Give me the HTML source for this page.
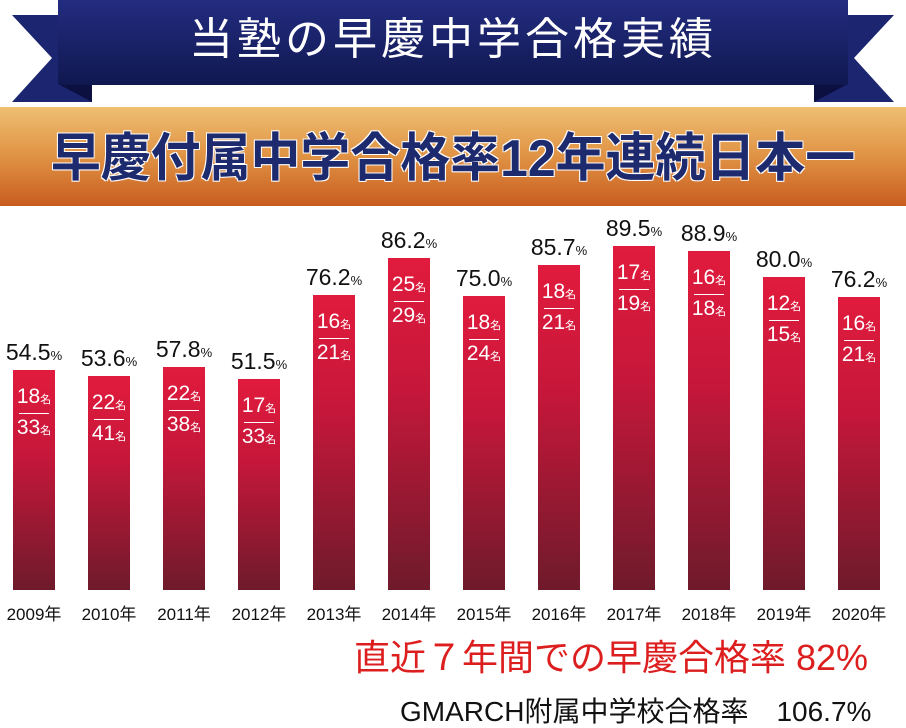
<!DOCTYPE html>
<html><head><meta charset="utf-8"><style>
*{margin:0;padding:0;box-sizing:border-box}
body{width:906px;height:727px;background:#fff;position:relative;overflow:hidden;font-family:"Liberation Sans","Noto Sans CJK JP",sans-serif}
.abs{position:absolute}
.bar{position:absolute;width:42px;bottom:137px;background:linear-gradient(#e11b3d,#c5173a 40%,#6e1a2b)}
.pct{position:absolute;width:90px;text-align:center;font-size:23px;color:#111;white-space:nowrap;line-height:26px}
.pct small{font-size:13px}
.in{position:absolute;left:0;width:42px;text-align:center;color:#fff;font-size:21px;line-height:22px}
.in small{font-size:11px}
.ln{position:absolute;left:6px;width:30px;height:1px;background:#fff}
.yr{position:absolute;top:600px;width:90px;text-align:center;font-size:17px;color:#111}
</style></head><body>
<svg class="abs" style="left:0;top:0" width="906" height="110">
<defs><linearGradient id="n" x1="0" y1="0" x2="0" y2="1"><stop offset="0" stop-color="#232c80"/><stop offset="1" stop-color="#101850"/></linearGradient></defs>
<polygon points="12,15 92,15 92,102 12,102 52,58" fill="#1c2670"/>
<polygon points="894,15 814,15 814,102 894,102 854,58" fill="#1c2670"/>
<polygon points="60,85 92,85 92,102" fill="#0b1040"/>
<polygon points="846,85 814,85 814,102" fill="#0b1040"/>
<rect x="58" y="0" width="790" height="85" fill="url(#n)"/>
</svg>
<div class="abs" style="left:0;top:14px;width:906px;text-align:center;color:#fff;font-size:44px;line-height:52px;letter-spacing:4px">当塾の早慶中学合格実績</div>
<div class="abs" style="left:0;top:107px;width:906px;height:99px;background:linear-gradient(#eebf72,#e09244 50%,#c85c20)"></div>
<div class="abs" style="left:0;top:128px;width:906px;text-align:center;color:#1d2a6e;font-size:52px;font-weight:bold;line-height:62px;transform:scaleX(0.96);text-shadow:1px 1px 0 #fff,-1px -1px 0 #fff,1px -1px 0 #fff,-1px 1px 0 #fff">早慶付属中学合格率12年連続日本一</div>
<div id="c"></div>
<div class="abs" style="left:354px;top:636px;color:#dd1e1e;font-size:36px;line-height:44px;white-space:nowrap">直近７年間での早慶合格率 82%</div>
<div class="abs" style="left:400px;top:696px;color:#111;font-size:28px;line-height:32px;white-space:nowrap">GMARCH附属中学校合格率　106.7%</div>
<script>
var d=[[2009,370,"54.5",18,33],[2010,376,"53.6",22,41],[2011,367,"57.8",22,38],[2012,379,"51.5",17,33],[2013,295,"76.2",16,21],[2014,258,"86.2",25,29],[2015,296,"75.0",18,24],[2016,265,"85.7",18,21],[2017,246,"89.5",17,19],[2018,251,"88.9",16,18],[2019,277,"80.0",12,15],[2020,297,"76.2",16,21]];
var h="";
d.forEach(function(r,i){var x=13+i*75,t=r[1];
h+='<div class="bar" style="left:'+x+'px;top:'+t+'px"><div class="in" style="top:16px">'+r[3]+'<small>名</small></div><div class="ln" style="top:43px"></div><div class="in" style="top:47px">'+r[4]+'<small>名</small></div></div>';
h+='<div class="pct" style="left:'+(x-24)+'px;top:'+(t-31)+'px">'+r[2]+'<small>%</small></div>';
h+='<div class="yr" style="left:'+(x-24)+'px">'+r[0]+'年</div>';});
document.getElementById("c").innerHTML=h;
</script>
</body></html>
